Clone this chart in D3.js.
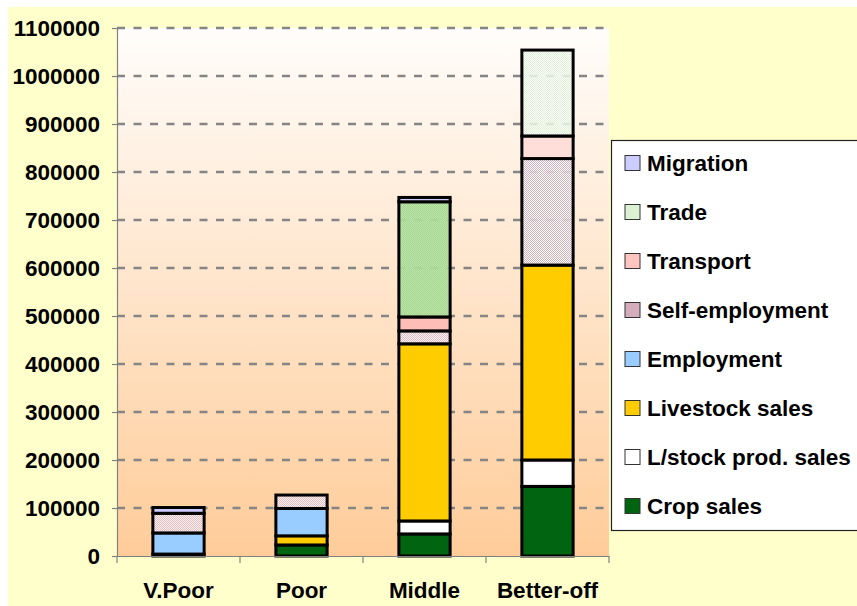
<!DOCTYPE html>
<html>
<head>
<meta charset="utf-8">
<script src="https://cdn.jsdelivr.net/npm/d3@7"></script>
<style>
  body { margin: 0; background: #fff; }
  text { font-family: "Liberation Sans", Arial, sans-serif; font-weight: bold; }
</style>
</head>
<body>
<div id="chart"></div>
<script>
// DATA
var categories = ["V.Poor", "Poor", "Middle", "Better-off"];
var seriesNames = ["Crop sales", "L/stock prod. sales", "Livestock sales", "Employment",
                   "Self-employment", "Transport", "Trade", "Migration"];
var cropSales      = [4000,  23000,  46000, 145000];
var lstockProd     = [0,     0,      27000, 55000];
var livestockSales = [0,     19000,  369000, 406000];
var employment     = [44000, 57000,  0,     0];
var selfEmployment = [41000, 28000,  27000, 222000];
var transport      = [0,     0,      29000, 47000];
var trade          = [0,     0,      240000, 179000];
var migration      = [12000, 0,      9000,  0];
var yTicks = [0, 100000, 200000, 300000, 400000, 500000, 600000, 700000, 800000, 900000, 1000000, 1100000];

var seriesValues = [cropSales, lstockProd, livestockSales, employment,
                    selfEmployment, transport, trade, migration];

// build a table for d3.stack
var table = categories.map(function(c, i) {
  var row = {category: c};
  seriesNames.forEach(function(s, j) { row[s] = seriesValues[j][i]; });
  return row;
});

// sizes
var W = 857, H = 606;
var plot = {left: 117, right: 609, top: 28, bottom: 556};
var fontSize = "22.5px";

var svg = d3.select("#chart").append("svg")
    .attr("width", W)
    .attr("height", H);

var defs = svg.append("defs");

// plot area gradient
var grad = defs.append("linearGradient")
    .attr("id", "plotGrad")
    .attr("x1", 0).attr("y1", 0).attr("x2", 0).attr("y2", 1);
grad.append("stop").attr("offset", "0%").attr("stop-color", "#fffdfb");
grad.append("stop").attr("offset", "100%").attr("stop-color", "#ffcc99");

// small dotted patterns
function dotPattern(id, bg, bgOpacity, dot) {
  var p = defs.append("pattern")
      .attr("id", id)
      .attr("width", 2).attr("height", 2)
      .attr("patternUnits", "userSpaceOnUse");
  p.append("rect").attr("width", 2).attr("height", 2).attr("fill", bg).attr("fill-opacity", bgOpacity);
  p.append("rect").attr("x", 0).attr("y", 0).attr("width", 1).attr("height", 1).attr("fill", dot);
  p.append("rect").attr("x", 1).attr("y", 1).attr("width", 1).attr("height", 1).attr("fill", dot);
}
dotPattern("selfPat", "#ffffff", 0.8, "#e8b8c4");
dotPattern("selfPatGrey", "#ffffff", 0.75, "#cdb4bf");
dotPattern("tradePat", "#ffffff", 0.7, "#dcf2d6");
dotPattern("tradePatDark", "#b4e2a4", 0.85, "#a2d890");

var colors = {
  "Crop sales": "#006411",
  "L/stock prod. sales": "#ffffff",
  "Livestock sales": "#ffcc00",
  "Employment": "#99ccff",
  "Self-employment": "url(#selfPat)",
  "Transport": "#ffbdb8",
  "Trade": "url(#tradePat)",
  "Migration": "#ccccff"
};
var legendColors = {
  "Self-employment": "#d4acbc",
  "Trade": "#dcf0d4",
  "Transport": "#ffc4c0"
};
// a few points were formatted differently in the original
var pointFill = {
  "Trade|Middle": "url(#tradePatDark)",
  "Transport|Better-off": "#ffdeda",
  "Self-employment|Better-off": "url(#selfPatGrey)"
};

// chart area background
svg.append("rect")
    .attr("x", 8).attr("y", 7)
    .attr("width", W - 8).attr("height", H - 7)
    .attr("fill", "#ffffcc");

// plot area
svg.append("rect")
    .attr("x", plot.left).attr("y", plot.top)
    .attr("width", plot.right - plot.left).attr("height", plot.bottom - plot.top)
    .attr("fill", "url(#plotGrad)");

// scales
var x = d3.scaleBand()
    .domain(categories)
    .range([plot.left, plot.right])
    .padding(0);
var y = d3.scaleLinear()
    .domain([0, 1100000])
    .range([plot.bottom, plot.top]);

var barW = x.bandwidth() / 2.4;

// gridlines
svg.append("g")
  .selectAll("line")
  .data(yTicks.filter(function(d) { return d > 0; }))
  .enter().append("line")
    .attr("x1", plot.left).attr("x2", plot.right)
    .attr("y1", function(d) { return y(d); })
    .attr("y2", function(d) { return y(d); })
    .attr("stroke", "#858585")
    .attr("stroke-width", 2.5)
    .attr("stroke-dasharray", "8,8.5");

// stacked bars
var stack = d3.stack().keys(seriesNames);
var stacked = stack(table);

var layers = svg.append("g").selectAll("g")
    .data(stacked)
    .enter().append("g");

layers.selectAll("rect")
    .data(function(s) {
      return s.map(function(d) { return {key: s.key, d: d}; })
              .filter(function(p) { return p.d[1] - p.d[0] > 0; });
    })
    .enter().append("rect")
    .attr("x", function(p) { return x(p.d.data.category) + (x.bandwidth() - barW) / 2; })
    .attr("width", barW)
    .attr("y", function(p) { return y(p.d[1]); })
    .attr("height", function(p) { return y(p.d[0]) - y(p.d[1]); })
    .attr("fill", function(p) {
      var k = p.key + "|" + p.d.data.category;
      return pointFill[k] || colors[p.key];
    })
    .attr("stroke", "#000")
    .attr("stroke-width", 3);

// y axis
var yAxis = svg.append("g")
    .attr("transform", "translate(" + plot.left + ",0)")
    .call(d3.axisLeft(y)
      .tickValues(yTicks)
      .tickFormat(d3.format("d"))
      .tickSize(5)
      .tickSizeOuter(0)
      .tickPadding(12));
yAxis.select(".domain").attr("stroke", "#808080").attr("stroke-width", 1.2);
yAxis.selectAll(".tick line").attr("stroke", "#808080").attr("stroke-width", 1.2);
yAxis.selectAll("text")
    .attr("fill", "#000")
    .style("font-size", fontSize)
    .style("font-family", "'Liberation Sans', Arial, sans-serif")
    .style("font-weight", "bold");

// x axis
var xAxis = svg.append("g")
    .attr("transform", "translate(0," + plot.bottom + ")")
    .call(d3.axisBottom(x)
      .tickSize(0)
      .tickSizeOuter(0)
      .tickPadding(26));
xAxis.select(".domain").attr("stroke", "#808080").attr("stroke-width", 1.2);
xAxis.selectAll("text")
    .attr("fill", "#000")
    .style("font-size", fontSize)
    .style("font-family", "'Liberation Sans', Arial, sans-serif")
    .style("font-weight", "bold");
// category boundary ticks
xAxis.selectAll(".bound")
    .data(categories.concat([null]))
    .enter().append("line")
    .attr("x1", function(d, i) { return plot.left + i * x.step(); })
    .attr("x2", function(d, i) { return plot.left + i * x.step(); })
    .attr("y1", 0).attr("y2", 7)
    .attr("stroke", "#808080")
    .attr("stroke-width", 1.2);

// legend
var legend = svg.append("g");
legend.append("rect")
    .attr("x", 611.5).attr("y", 140.5)
    .attr("width", 270).attr("height", 390)
    .attr("fill", "#fff")
    .attr("stroke", "#222")
    .attr("stroke-width", 1.2);

var legendItems = seriesNames.slice().reverse();
var li = legend.selectAll(".item")
    .data(legendItems)
    .enter().append("g")
    .attr("transform", function(d, i) { return "translate(625," + (163 + i * 49) + ")"; });
li.append("rect")
    .attr("x", 0).attr("y", -7.5)
    .attr("width", 15).attr("height", 15)
    .attr("fill", function(d) { return legendColors[d] || colors[d]; })
    .attr("stroke", "#333")
    .attr("stroke-width", 1);
li.append("text")
    .attr("x", 22)
    .attr("y", 0)
    .attr("dy", "0.36em")
    .style("font-size", fontSize)
    .text(function(d) { return d; });
</script>
</body>
</html>
